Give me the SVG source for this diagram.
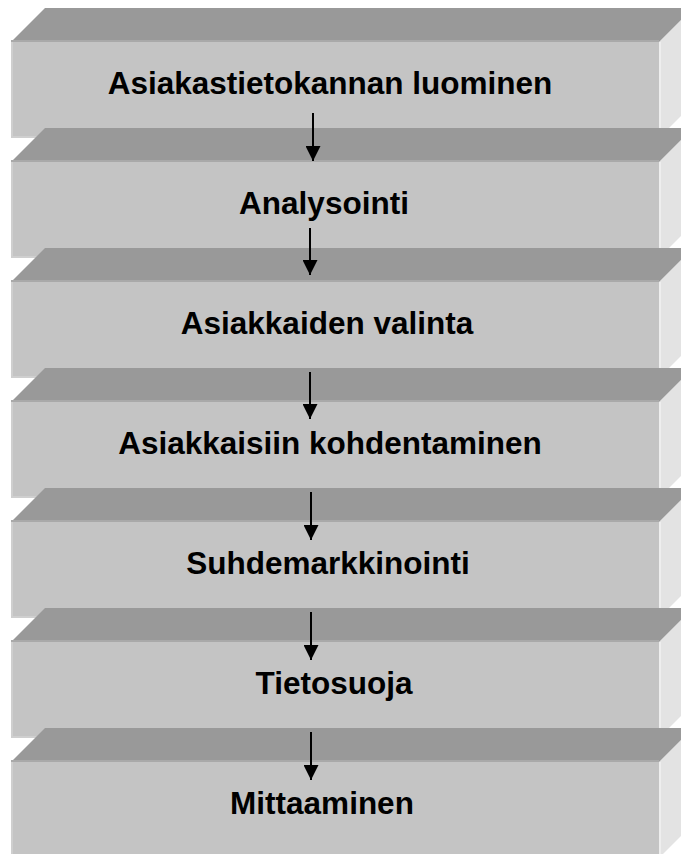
<svg xmlns="http://www.w3.org/2000/svg" width="681" height="854" viewBox="0 0 681 854">
<style>
.side{fill:#e3e3e3}
.sideEdge{stroke:#eeeeee;stroke-width:2}
.front{fill:#c4c4c4}
.frontEdge{stroke:#cfcfcf;stroke-width:2}
.top{fill:#999999}
.topEdge{stroke:#a9a9a9;stroke-width:2}
.lbl{font-family:"Liberation Sans",Arial,sans-serif;font-weight:bold;font-size:31.5px;fill:#000;text-anchor:middle}
.conn{stroke:#000;stroke-width:2;fill:none}
</style>
<defs>
<marker id="ah" markerUnits="userSpaceOnUse" markerWidth="15" markerHeight="15" refX="15" refY="7.5" orient="auto">
<path d="M0,0 L15,7.5 L0,15 z" fill="#000"/>
</marker>
<g id="box">
<polygon class="side" points="659,42 693,8 693,104 659,138"/>
<line class="sideEdge" x1="660" y1="42" x2="660" y2="138"/>
<rect class="front" x="11" y="42" width="648" height="96"/>
<line class="frontEdge" x1="12" y1="42" x2="12" y2="138"/>
<line class="frontEdge" x1="11" y1="137" x2="659" y2="137"/>
<polygon class="top" points="11,42 45,8 693,8 659,42"/>
<line class="topEdge" x1="11" y1="41" x2="659" y2="41"/>
</g>
</defs>
<g id="node1"><use href="#box"/><text class="lbl" x="330" y="94">Asiakastietokannan luominen</text></g>
<g id="node2"><use href="#box" y="120"/><text class="lbl" x="324" y="214">Analysointi</text></g>
<g id="node3"><use href="#box" y="240"/><text class="lbl" x="327" y="334">Asiakkaiden valinta</text></g>
<g id="node4"><use href="#box" y="360"/><text class="lbl" x="330" y="454">Asiakkaisiin kohdentaminen</text></g>
<g id="node5"><use href="#box" y="480"/><text class="lbl" x="328" y="574">Suhdemarkkinointi</text></g>
<g id="node6"><use href="#box" y="600"/><text class="lbl" x="334" y="694">Tietosuoja</text></g>
<g id="node7"><use href="#box" y="720"/><text class="lbl" x="322" y="814">Mittaaminen</text></g>
<g id="connectors">
<line class="conn" x1="313" y1="113" x2="313" y2="161" marker-end="url(#ah)"/>
<line class="conn" x1="310" y1="228" x2="310" y2="275" marker-end="url(#ah)"/>
<line class="conn" x1="310" y1="372" x2="310" y2="419" marker-end="url(#ah)"/>
<line class="conn" x1="311" y1="492" x2="311" y2="540" marker-end="url(#ah)"/>
<line class="conn" x1="311" y1="612" x2="311" y2="660" marker-end="url(#ah)"/>
<line class="conn" x1="311" y1="732" x2="311" y2="780" marker-end="url(#ah)"/>
</g>
</svg>
